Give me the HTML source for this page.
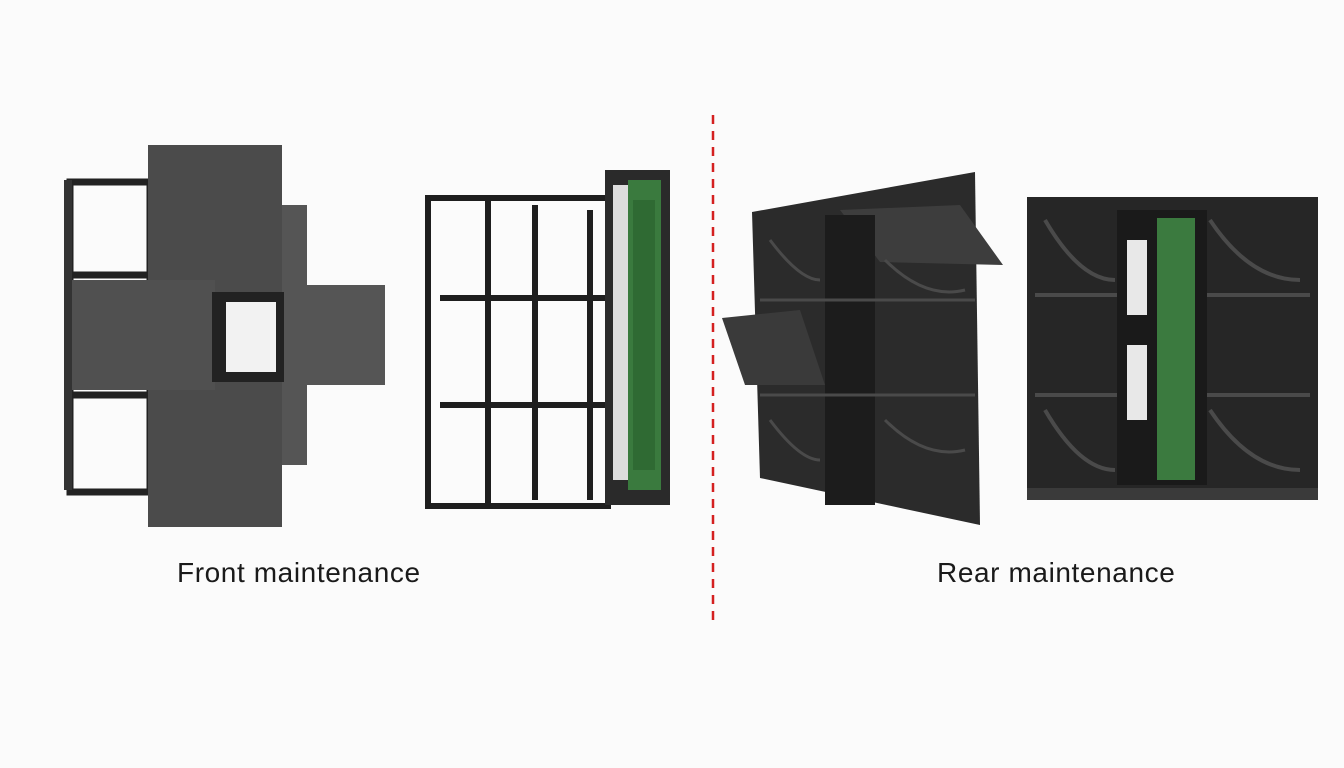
<!DOCTYPE html>
<html><head><meta charset="utf-8"><style>
html,body{margin:0;padding:0;background:#fbfbfb;}
.wrap{position:relative;width:1344px;height:768px;overflow:hidden;font-family:"Liberation Sans",sans-serif;}
.lbl{position:absolute;font-size:28px;letter-spacing:0.6px;color:#1a1a1a;top:557px;}
</style></head><body><div class="wrap">
<svg width="1344" height="768" style="position:absolute;left:0;top:0">
<line x1="713" y1="115" x2="713" y2="620" stroke="#d42020" stroke-width="2.5" stroke-dasharray="9,7"/>

<g fill="none" stroke="#222" stroke-width="7">
<rect x="70" y="182" width="80" height="310"/>
<line x1="70" y1="275" x2="150" y2="275"/>
<line x1="70" y1="395" x2="150" y2="395"/>
</g>
<rect x="148" y="145" width="134" height="382" fill="#4b4b4b"/>
<rect x="282" y="205" width="25" height="80" fill="#555"/>
<rect x="282" y="385" width="25" height="80" fill="#555"/>
<rect x="70" y="280" width="145" height="110" fill="#505050"/>
<rect x="282" y="285" width="103" height="100" fill="#555"/>
<rect x="212" y="292" width="72" height="90" fill="#222"/>
<rect x="226" y="302" width="50" height="70" fill="#f2f2f2"/>
<rect x="64" y="180" width="8" height="310" fill="#333"/>

<g fill="none" stroke="#1e1e1e" stroke-width="6">
<rect x="428" y="198" width="180" height="308"/>
<line x1="488" y1="200" x2="488" y2="505"/>
<line x1="535" y1="205" x2="535" y2="500"/>
<line x1="590" y1="210" x2="590" y2="500"/>
<line x1="440" y1="298" x2="605" y2="298"/>
<line x1="440" y1="405" x2="605" y2="405"/>
</g>
<rect x="605" y="170" width="65" height="335" fill="#2a2a2a"/>
<rect x="613" y="185" width="15" height="295" fill="#ddd"/>
<rect x="628" y="180" width="33" height="310" fill="#3a7a3e"/>
<rect x="633" y="200" width="22" height="270" fill="#2f6a33"/>

<polygon points="752,212 975,172 980,525 760,478" fill="#2b2b2b"/>
<polygon points="722,318 800,310 825,385 745,385" fill="#3a3a3a"/>
<polygon points="840,210 960,205 1003,265 880,262" fill="#3d3d3d"/>
<rect x="825" y="215" width="50" height="290" fill="#1c1c1c"/>
<g stroke="#4a4a4a" stroke-width="3" fill="none">
<line x1="760" y1="300" x2="975" y2="300"/>
<line x1="760" y1="395" x2="975" y2="395"/>
<path d="M770 240 q30 40 50 40"/><path d="M885 260 q40 40 80 30"/>
<path d="M770 420 q30 40 50 40"/><path d="M885 420 q40 40 80 30"/>
</g>

<rect x="1027" y="197" width="291" height="303" fill="#262626"/>
<g stroke="#4a4a4a" stroke-width="4" fill="none">
<line x1="1035" y1="295" x2="1310" y2="295"/>
<line x1="1035" y1="395" x2="1310" y2="395"/>
<path d="M1045 220 q35 60 70 60"/><path d="M1210 220 q40 60 90 60"/>
<path d="M1045 410 q35 60 70 60"/><path d="M1210 410 q40 60 90 60"/>
</g>
<rect x="1117" y="210" width="90" height="275" fill="#1a1a1a"/>
<rect x="1127" y="240" width="20" height="75" fill="#e8e8e8"/>
<rect x="1127" y="345" width="20" height="75" fill="#e8e8e8"/>
<rect x="1157" y="218" width="38" height="262" fill="#3b7a3f"/>
<rect x="1027" y="488" width="291" height="12" fill="#3a3a3a"/>
</svg>
<div class="lbl" style="left:177px">Front maintenance</div>
<div class="lbl" style="left:937px">Rear maintenance</div>
</div></body></html>
